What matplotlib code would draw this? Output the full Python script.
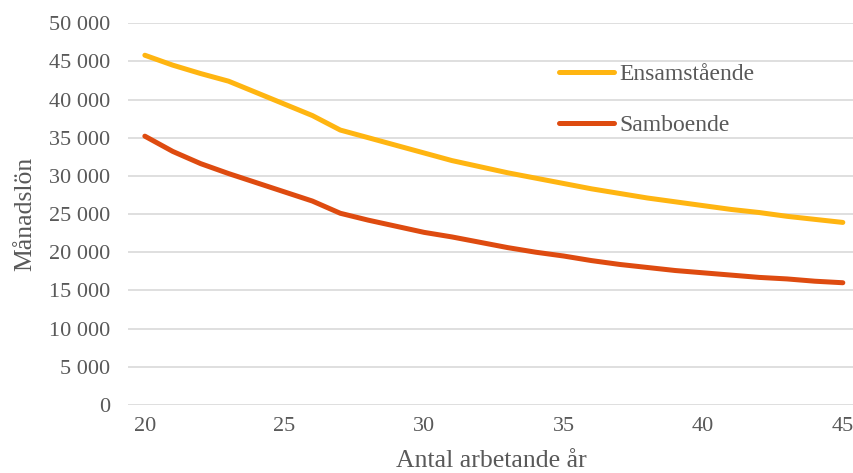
import matplotlib
matplotlib.use("Agg")
import matplotlib.pyplot as plt
from matplotlib.ticker import FuncFormatter, MultipleLocator

# font
plt.rcParams["font.family"] = ["Liberation Serif", "DejaVu Serif"]

# data
years = list(range(20, 46))
ensam = [45800, 44500, 43400, 42400, 40900, 39400, 37900, 36000, 35000, 34000,
         33000, 32000, 31200, 30400, 29700, 29000, 28300, 27700, 27100, 26600,
         26100, 25600, 25200, 24700, 24300, 23900]
sambo = [35200, 33200, 31600, 30300, 29100, 27900, 26700, 25100, 24200, 23400,
         22600, 22000, 21300, 20600, 20000, 19500, 18900, 18400, 18000, 17600,
         17300, 17000, 16700, 16500, 16200, 16000]
labels = ["Ensamstående", "Samboende"]

text_col = "#595959"

fig = plt.figure(figsize=(8.54, 4.73), dpi=100)
ax = fig.add_axes([0.15, 0.144, 0.85, 0.807])

ax.plot(years, ensam, color="#FFB511", lw=3.6, solid_capstyle="round", label=labels[0])
ax.plot(years, sambo, color="#DE4B10", lw=3.6, solid_capstyle="round", label=labels[1])

ax.set_xlim(19.4, 45.4)
ax.set_ylim(0, 50000)
ax.yaxis.set_major_locator(MultipleLocator(5000))
ax.xaxis.set_major_locator(MultipleLocator(5))
ax.yaxis.set_major_formatter(FuncFormatter(lambda v, p: f"{int(v):,}".replace(",", " ")))
ax.grid(axis="y", color="#D9D9D9", lw=1.2)
ax.set_axisbelow(True)
for s in ax.spines.values():
    s.set_visible(False)
ax.tick_params(length=0, labelsize=16, colors=text_col)
ax.tick_params(axis="y", pad=13)
ax.tick_params(axis="x", pad=9)

ax.set_xlabel("Antal arbetande år", fontsize=18.5, color=text_col, labelpad=9.5)
ax.set_ylabel("Månadslön", fontsize=18.5, color=text_col, labelpad=9)

leg = ax.legend(loc="upper left", bbox_to_anchor=(0.577, 0.925), frameon=False,
                fontsize=17, handlelength=2.35, handletextpad=0.2,
                labelspacing=1.25, borderpad=0)
for t in leg.get_texts():
    t.set_color(text_col)

plt.savefig("out.png", dpi=100)
